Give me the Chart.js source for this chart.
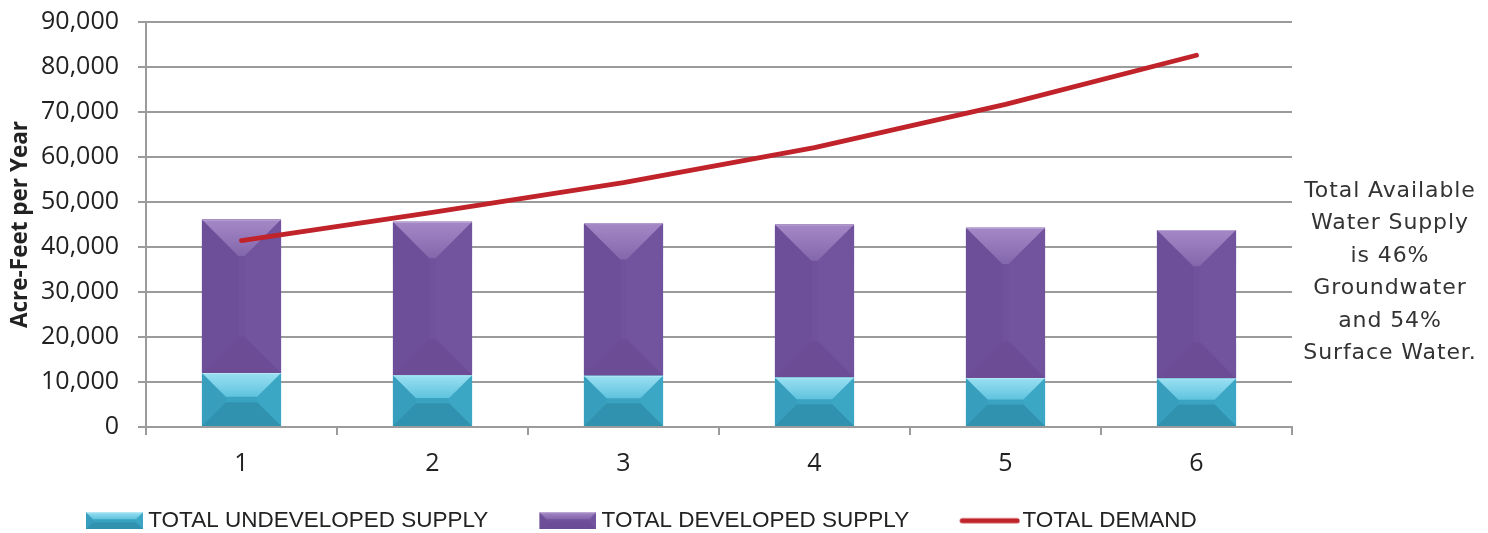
<!DOCTYPE html>
<html>
<head>
<meta charset="utf-8">
<title>Water Supply and Demand</title>
<script src="https://cdn.jsdelivr.net/npm/chart.js@4.4.1/dist/chart.umd.min.js"></script>
<style>
  html, body { margin: 0; padding: 0; background: #ffffff; }
  #wrap { position: relative; width: 1488px; height: 533px; }
  #note {
    position: absolute; left: 1292px; width: 196px; top: 174px;
    text-align: center; font-family: "DejaVu Sans", sans-serif;
    font-size: 22px; letter-spacing: 0.9px; line-height: 32.4px; color: #333333;
  }
</style>
</head>
<body>
<div id="wrap">
  <canvas id="chart"></canvas>
  <div id="note">Total Available<br>Water Supply<br>is 46%<br>Groundwater<br>and 54%<br>Surface Water.</div>
</div>
<script>
// Planning periods along the x axis
const categories = ['1', '2', '3', '4', '5', '6'];

// Supply components (acre-feet per year), stacked
const undevelopedSupply = [12000, 11500, 11400, 11000, 10900, 10800];
const developedSupply   = [34100, 34100, 33900, 34000, 33400, 33000];

// Projected total demand (acre-feet per year)
const totalDemand = [41400, 47700, 54300, 62100, 71700, 82600];

// Value axis range
const yMin = 0;
const yMax = 90000;
const yStep = 10000;

// Facet shades for the bevelled bars
const cyanFacets = { base: '#3aa3c2', top: ['#9ae0f2', '#5fc3de'], bottom: '#3192b0', left: '#389ebd', right: '#3ca7c5' };
const purpleFacets = { base: '#70519b', top: ['#a488c6', '#8367ac'], bottom: '#6b4c95', left: '#6d4e98', right: '#72539d' };

const gridColor = '#9b9b9b';
const textColor = '#222222';

function fillPoly(ctx, pts, style) {
  ctx.beginPath();
  ctx.moveTo(pts[0][0], pts[0][1]);
  for (let i = 1; i < pts.length; i++) ctx.lineTo(pts[i][0], pts[i][1]);
  ctx.closePath();
  ctx.fillStyle = style;
  ctx.fill();
}

// Draws a bevelled rectangle: side faces, a lit top face and a shaded bottom face
function drawBevel(ctx, l, t, r, b, d, c) {
  fillPoly(ctx, [[l, t], [r, t], [r, b], [l, b]], c.base);
  fillPoly(ctx, [[l, t], [l + d, t + d], [l + d, b - d], [l, b]], c.left);
  fillPoly(ctx, [[r, t], [r - d, t + d], [r - d, b - d], [r, b]], c.right);
  fillPoly(ctx, [[l, b], [r, b], [r - d, b - d], [l + d, b - d]], c.bottom);
  const g = ctx.createLinearGradient(0, t, 0, t + d);
  g.addColorStop(0, c.top[0]);
  g.addColorStop(1, c.top[1]);
  fillPoly(ctx, [[l, t], [r, t], [r - d, t + d], [l + d, t + d]], g);
  ctx.strokeStyle = 'rgba(255,255,255,0.28)';
  ctx.lineWidth = 1;
  ctx.beginPath();
  ctx.moveTo(l, t + 0.5);
  ctx.lineTo(r, t + 0.5);
  ctx.stroke();
}

const bevelPlugin = {
  id: 'bevel',
  afterDatasetDraw(chart, args) {
    const meta = args.meta;
    const ds = chart.data.datasets[args.index];
    if (meta.type !== 'bar' || !ds.facets) return;
    const ctx = chart.ctx;
    const area = chart.chartArea;
    ctx.save();
    ctx.beginPath();
    ctx.rect(area.left, area.top - 2, area.width, area.height + 2);
    ctx.clip();
    meta.data.forEach(bar => {
      const p = bar.getProps(['x', 'y', 'base', 'width'], true);
      const l = p.x - p.width / 2, r = p.x + p.width / 2;
      const t = Math.min(p.y, p.base), b = Math.max(p.y, p.base);
      const d = Math.min(p.width * 0.46, (b - t) * 0.45);
      drawBevel(ctx, l, t, r, b, d, ds.facets);
    });
    ctx.restore();
  }
};

// Legend swatches
const iconSlot = 100;   // legend pointStyleWidth
function boxIcon(c) {
  const cv = document.createElement('canvas');
  cv.width = iconSlot + 12; cv.height = 17;
  const ctx = cv.getContext('2d');
  const l = cv.width - 57;
  drawBevel(ctx, l, 0, cv.width, 17, 7, c);
  return cv;
}
function lineIcon(color) {
  const cv = document.createElement('canvas');
  cv.width = iconSlot + 18; cv.height = 8;
  const ctx = cv.getContext('2d');
  ctx.strokeStyle = color; ctx.lineWidth = 5; ctx.lineCap = 'round';
  ctx.beginPath(); ctx.moveTo(cv.width - 58, 4); ctx.lineTo(cv.width - 3, 4); ctx.stroke();
  return cv;
}
const demandColor = '#c1232b';
const legendIcons = [boxIcon(cyanFacets), boxIcon(purpleFacets), lineIcon(demandColor)];

Chart.defaults.font.family = '"Open Sans", sans-serif';
Chart.defaults.color = textColor;

new Chart(document.getElementById('chart'), {
  data: {
    labels: categories,
    datasets: [
      {
        type: 'bar', label: 'TOTAL UNDEVELOPED SUPPLY', data: undevelopedSupply,
        backgroundColor: cyanFacets.base, facets: cyanFacets, stack: 'supply', order: 1,
        barPercentage: 0.414, categoryPercentage: 1.0
      },
      {
        type: 'bar', label: 'TOTAL DEVELOPED SUPPLY', data: developedSupply,
        backgroundColor: purpleFacets.base, facets: purpleFacets, stack: 'supply', order: 2,
        barPercentage: 0.414, categoryPercentage: 1.0
      },
      {
        type: 'line', label: 'TOTAL DEMAND', data: totalDemand, stack: 'demand', order: 0,
        borderColor: demandColor, backgroundColor: demandColor, borderWidth: 4.8,
        pointRadius: 0, tension: 0, borderCapStyle: 'round', borderJoinStyle: 'round', fill: false
      }
    ]
  },
  options: {
    responsive: true,
    maintainAspectRatio: false,
    animation: false,
    layout: { padding: { left: 35, right: 196, top: 22, bottom: -9 } },
    plugins: {
      tooltip: { enabled: false },
      legend: {
        position: 'bottom',
        align: 'start',
        labels: {
          usePointStyle: true,
          pointStyleWidth: iconSlot,
          padding: 2,
          color: textColor,
          font: { family: '"Liberation Sans", Arial, sans-serif', size: 22.5 },
          generateLabels(chart) {
            const items = Chart.defaults.plugins.legend.labels.generateLabels(chart);
            items.forEach(item => { item.pointStyle = legendIcons[item.datasetIndex]; item.lineWidth = 0; });
            return items.sort((a, b) => a.datasetIndex - b.datasetIndex);
          }
        }
      }
    },
    scales: {
      x: {
        stacked: true,
        offset: true,
        grid: { display: true, offset: true, drawOnChartArea: false, drawTicks: true, tickLength: 8, color: gridColor, lineWidth: 2 },
        border: { display: true, color: gridColor, width: 2 },
        ticks: { padding: 14, color: textColor, font: { size: 25 } },
        afterFit(scale) { scale.height = 80.5; }
      },
      y: {
        stacked: true,
        min: yMin, max: yMax,
        grid: { color: gridColor, lineWidth: 2, drawTicks: true, tickLength: 8 },
        border: { display: true, color: gridColor, width: 2 },
        ticks: {
          stepSize: yStep, padding: 19, color: textColor, font: { size: 25 },
          callback: v => v.toLocaleString('en-US')
        },
        title: {
          display: true, text: 'Acre-Feet per Year', color: textColor,
          font: { size: 22.5, weight: 'bold' }, padding: { top: -28, bottom: 0 }
        },
        afterFit(scale) {
          scale.width = 111;
          scale.paddingTop = 15;
          scale.paddingBottom = 15;
        }
      }
    }
  },
  plugins: [bevelPlugin]
});
</script>
</body>
</html>
